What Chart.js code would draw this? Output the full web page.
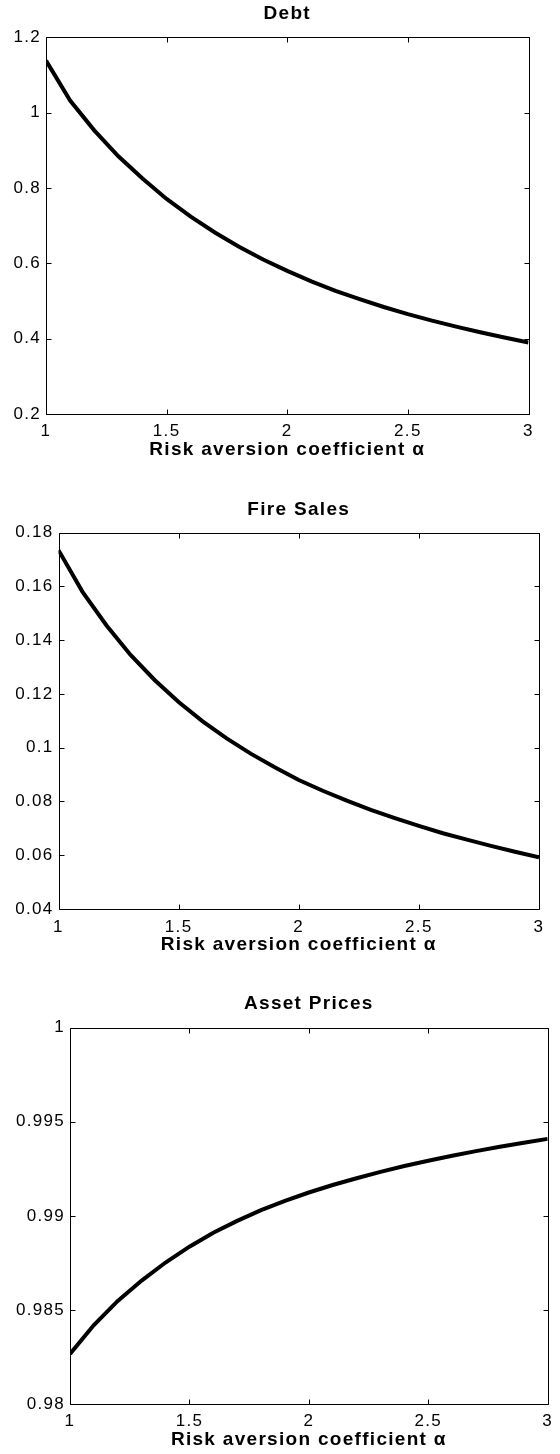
<!DOCTYPE html>
<html><head><meta charset="utf-8">
<script src="https://cdn.jsdelivr.net/npm/chart.js@4.4.1/dist/chart.umd.min.js"></script>
<style>
html,body{margin:0;padding:0;background:#fff;}
body{width:560px;height:1454px;position:relative;overflow:hidden;}
.panel{position:absolute;left:0;width:560px;}
canvas{display:block;}
</style></head><body>
<div class="panel" style="top:0;height:475px"><canvas id="c1" width="560" height="475"></canvas></div>
<div class="panel" style="top:475px;height:490px"><canvas id="c2" width="560" height="490"></canvas></div>
<div class="panel" style="top:965px;height:489px"><canvas id="c3" width="560" height="489"></canvas></div>
<script>
// ---- data ----
const alpha = [1.0,1.1,1.2,1.3,1.4,1.5,1.6,1.7,1.8,1.9,2.0,2.1,2.2,2.3,2.4,2.5,2.6,2.7,2.8,2.9,3.0];
const debt = [1.138,1.032,0.953,0.884,0.825,0.771,0.724,0.682,0.644,0.610,0.580,0.552,0.527,0.505,0.484,0.465,0.448,0.432,0.417,0.403,0.390];
const fireSales = [0.1735,0.158,0.1455,0.1345,0.1252,0.117,0.1098,0.1035,0.0978,0.0927,0.088,0.084,0.0803,0.0769,0.0738,0.0709,0.0682,0.0658,0.0635,0.0613,0.0592];
const assetPrices = [0.98266,0.9842,0.98548,0.98656,0.98752,0.98836,0.9891,0.98973,0.9903,0.9908,0.99124,0.99164,0.992,0.99234,0.99265,0.99293,0.99319,0.99344,0.99367,0.99389,0.99409];

const xTicks = [1,1.5,2,2.5,3];
const xTickLabels = ['1','1.5','2','2.5','3'];
const debtTicks = [0.2,0.4,0.6,0.8,1,1.2];
const debtTickLabels = ['0.2','0.4','0.6','0.8','1','1.2'];
const fireTicks = [0.04,0.06,0.08,0.1,0.12,0.14,0.16,0.18];
const fireTickLabels = ['0.04','0.06','0.08','0.1','0.12','0.14','0.16','0.18'];
const assetTicks = [0.98,0.985,0.99,0.995,1];
const assetTickLabels = ['0.98','0.985','0.99','0.995','1'];

const panelTitles = ['Debt','Fire Sales','Asset Prices'];
const xTitle = 'Risk aversion coefficient \u03B1';

// ---- rendering ----
Chart.defaults.font.family = '"Liberation Sans", Arial, Helvetica, sans-serif';
Chart.defaults.color = '#000';

const framePlugin = {
  id: 'matlabFrame',
  beforeDraw(chart) { chart.ctx.letterSpacing = '1.3px'; },
  afterDatasetsDraw(chart) {
    const {ctx, chartArea, scales} = chart;
    const L = Math.round(chartArea.left) + 0.5, R = Math.round(chartArea.right) + 0.5;
    const T = Math.round(chartArea.top) + 0.5, B = Math.round(chartArea.bottom) + 0.5;
    const tl = 5;
    ctx.save();
    ctx.strokeStyle = '#000';
    ctx.lineWidth = 1;
    ctx.beginPath();
    ctx.rect(L, T, R - L, B - T);
    scales.x.ticks.forEach(t => {
      const p = Math.round(scales.x.getPixelForValue(t.value)) + 0.5;
      ctx.moveTo(p, B); ctx.lineTo(p, B - tl);
      ctx.moveTo(p, T); ctx.lineTo(p, T + tl);
    });
    scales.y.ticks.forEach(t => {
      const p = Math.round(scales.y.getPixelForValue(t.value)) + 0.5;
      ctx.moveTo(L, p); ctx.lineTo(L + tl, p);
      ctx.moveTo(R, p); ctx.lineTo(R - tl, p);
    });
    ctx.stroke();
    ctx.restore();
  }
};

function makePanel(id, title, values, yTicks, yLabels, g) {
  return new Chart(document.getElementById(id), {
    type: 'line',
    data: {
      datasets: [{
        data: alpha.map((a, i) => ({x: a, y: values[i]})),
        borderColor: '#000',
        borderWidth: 4,
        pointRadius: 0,
        tension: 0,
        fill: false
      }]
    },
    options: {
      responsive: false,
      animation: false,
      devicePixelRatio: 1,
      layout: {padding: {left: 0, right: g.pr, top: 0, bottom: 0}},
      plugins: {
        legend: {display: false},
        tooltip: {enabled: false},
        title: {
          display: true, text: title, fullSize: false, color: '#000',
          font: {size: 19, weight: 'bold', lineHeight: 1.2},
          padding: {top: g.tpt, bottom: g.tpb}
        }
      },
      scales: {
        x: {
          type: 'linear', min: xTicks[0], max: xTicks[xTicks.length - 1],
          afterBuildTicks: s => { s.ticks = xTicks.map(v => ({value: v})); },
          afterFit: s => { s.height = g.xh; },
          grid: {display: false, drawTicks: false},
          border: {display: false},
          ticks: {
            autoSkip: false, maxRotation: 0, padding: g.xtp, color: '#000',
            font: {size: 17, lineHeight: 1.2},
            callback: v => xTickLabels[xTicks.indexOf(v)]
          },
          title: {
            display: true, text: xTitle, color: '#000',
            font: {size: 19, weight: 'bold', lineHeight: 1.2},
            padding: {top: 0, bottom: g.xtb}
          }
        },
        y: {
          type: 'linear', min: yTicks[0], max: yTicks[yTicks.length - 1],
          afterBuildTicks: s => { s.ticks = yTicks.map(v => ({value: v})); },
          afterFit: s => { s.width = g.yw; },
          grid: {display: false, drawTicks: false},
          border: {display: false},
          ticks: {
            padding: 5, color: '#000',
            font: {size: 17, lineHeight: 1.2},
            callback: v => yLabels[yTicks.indexOf(v)]
          }
        }
      }
    },
    plugins: [framePlugin]
  });
}

makePanel('c1', panelTitles[0], debt, debtTicks, debtTickLabels,
  {pr: 31.5, tpt: 2.6, tpb: 11.9, yw: 46, xh: 61, xtp: 6.8, xtb: 13.6});
makePanel('c2', panelTitles[1], fireSales, fireTicks, fireTickLabels,
  {pr: 21, tpt: 23.3, tpb: 11.6, yw: 58.5, xh: 56, xtp: 8.5, xtb: 9.3});
makePanel('c3', panelTitles[2], assetPrices, assetTicks, assetTickLabels,
  {pr: 9, tpt: 27.8, tpb: 12.1, yw: 70, xh: 50, xtp: 7.6, xtb: 2.6});
</script>
</body></html>
